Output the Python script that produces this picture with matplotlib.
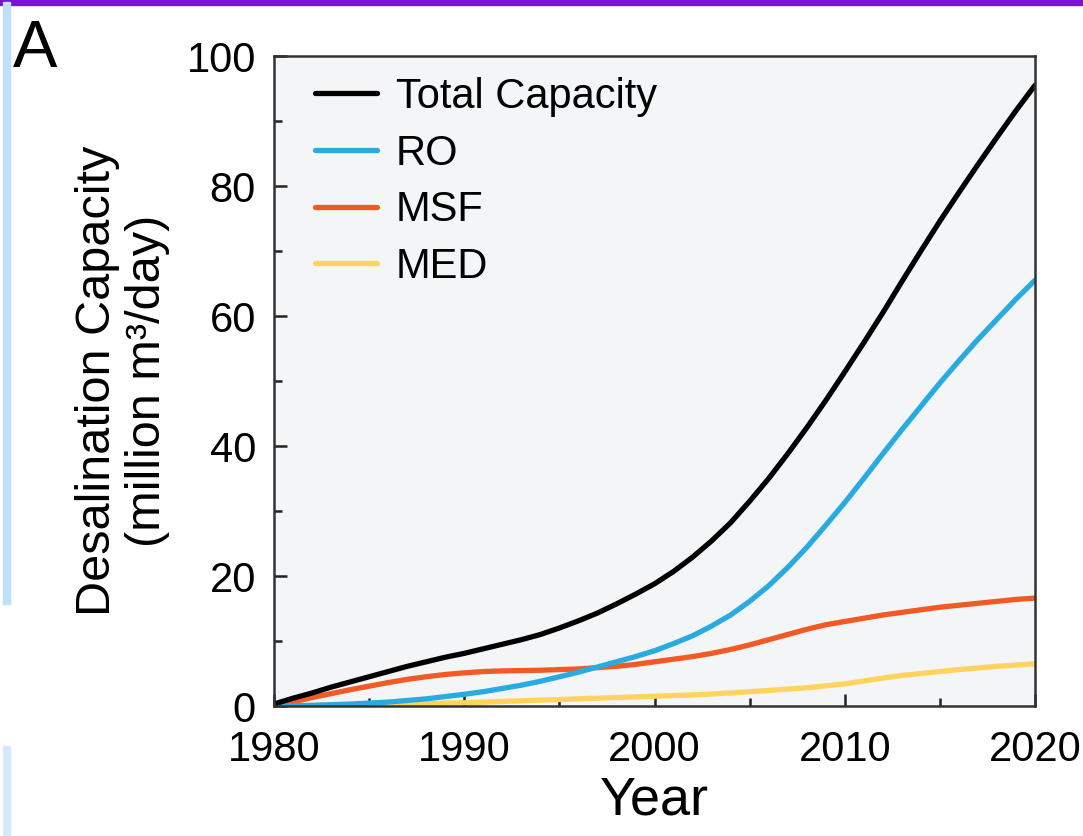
import numpy as np
import matplotlib.pyplot as plt
import matplotlib.ticker as tck
from matplotlib.patches import Rectangle

plt.rcParams['font.family'] = ['Liberation Sans', 'DejaVu Sans']

years = list(range(1980, 2021))
total = [0.3, 1.2, 2.0, 2.9, 3.7, 4.5, 5.3, 6.1, 6.8, 7.5,
         8.1, 8.8, 9.5, 10.2, 11.0, 12.0, 13.1, 14.3, 15.7, 17.2,
         18.8, 20.7, 22.9, 25.4, 28.2, 31.5, 35.0, 38.8, 42.8, 47.0,
         51.4, 55.9, 60.5, 65.3, 70.0, 74.6, 79.0, 83.3, 87.5, 91.6,
         95.5]
ro = [0.0, 0.05, 0.1, 0.2, 0.3, 0.45, 0.6, 0.85, 1.1, 1.45,
      1.8, 2.2, 2.7, 3.2, 3.8, 4.5, 5.2, 6.0, 6.8, 7.6,
      8.5, 9.6, 10.8, 12.3, 14.0, 16.1, 18.5, 21.3, 24.4, 27.8,
      31.3, 35.0, 38.8, 42.5, 46.1, 49.7, 53.1, 56.4, 59.5, 62.6,
      65.5]
msf = [0.0, 0.65, 1.3, 1.9, 2.5, 3.05, 3.6, 4.1, 4.5, 4.85,
       5.1, 5.3, 5.4, 5.45, 5.5, 5.6, 5.7, 5.9, 6.1, 6.4,
       6.8, 7.2, 7.6, 8.1, 8.7, 9.4, 10.2, 11.0, 11.8, 12.5,
       13.0, 13.5, 14.0, 14.4, 14.8, 15.2, 15.5, 15.8, 16.1, 16.4,
       16.6]
med = [0.0, 0.05, 0.1, 0.15, 0.2, 0.25, 0.3, 0.35, 0.4, 0.45,
       0.5, 0.6, 0.7, 0.8, 0.9, 1.0, 1.1, 1.2, 1.3, 1.4,
       1.5, 1.6, 1.7, 1.85, 2.0, 2.2, 2.4, 2.6, 2.8, 3.1,
       3.4, 3.85, 4.3, 4.7, 5.0, 5.3, 5.6, 5.85, 6.1, 6.3,
       6.5]

series = [('Total Capacity', total, '#000000'),
          ('RO', ro, '#29abe2'),
          ('MSF', msf, '#f15a24'),
          ('MED', med, '#fed45e')]

fig = plt.figure(figsize=(10.83, 8.36), dpi=100)
ax = fig.add_axes([0.253, 0.1555, 0.7027, 0.7775])
ax.set_facecolor('#f3f5f7')

# draw back-to-front so the total line sits on top
for name, vals, col in reversed(series):
    ax.plot(years, vals, color=col, lw=3.8, label=name,
            solid_capstyle='round', solid_joinstyle='round')

ax.set_xlim(1980, 2020)
ax.set_ylim(0, 100)
ax.set_xticks([1980, 1990, 2000, 2010, 2020])
ax.set_yticks([0, 20, 40, 60, 80, 100])
ax.xaxis.set_minor_locator(tck.MultipleLocator(5))
ax.yaxis.set_minor_locator(tck.MultipleLocator(10))
ax.tick_params(which='both', direction='in', top=False, right=False,
               labelsize=30, color='#222222', width=1.8)
ax.tick_params(which='major', length=9)
ax.tick_params(which='minor', length=6)
ax.tick_params(axis='x', which='major', pad=17)
ax.tick_params(axis='y', which='major', pad=13)
for sp in ax.spines.values():
    sp.set_color('#333333')
    sp.set_linewidth(1.8)

ax.set_xlabel('Year', fontsize=39, labelpad=4)
ax.set_ylabel('Desalination Capacity\n(million m³/day)', fontsize=35,
              labelpad=12, linespacing=1.15)

h, l = ax.get_legend_handles_labels()
ax.legend(h[::-1], l[::-1], loc='upper left', frameon=False, fontsize=30,
          handlelength=1.5, handletextpad=0.45, labelspacing=0.4,
          borderaxespad=0.1, bbox_to_anchor=(0.026, 1.0))

fig.text(0.012, 0.977, 'A', fontsize=48, va='top', ha='left')

# page decorations around the panel
fig.patches.append(Rectangle((0, 0.994), 1, 0.006, transform=fig.transFigure,
                             color='#7a12d9', zorder=5))
fig.patches.append(Rectangle((0.003, 0.278), 0.0065, 0.72, transform=fig.transFigure,
                             color='#bfe0fb', zorder=5))
fig.patches.append(Rectangle((0.003, 0.0), 0.0065, 0.108, transform=fig.transFigure,
                             color='#d4eafc', zorder=5))

fig.savefig('out.png', dpi=100)
plt.close(fig)
